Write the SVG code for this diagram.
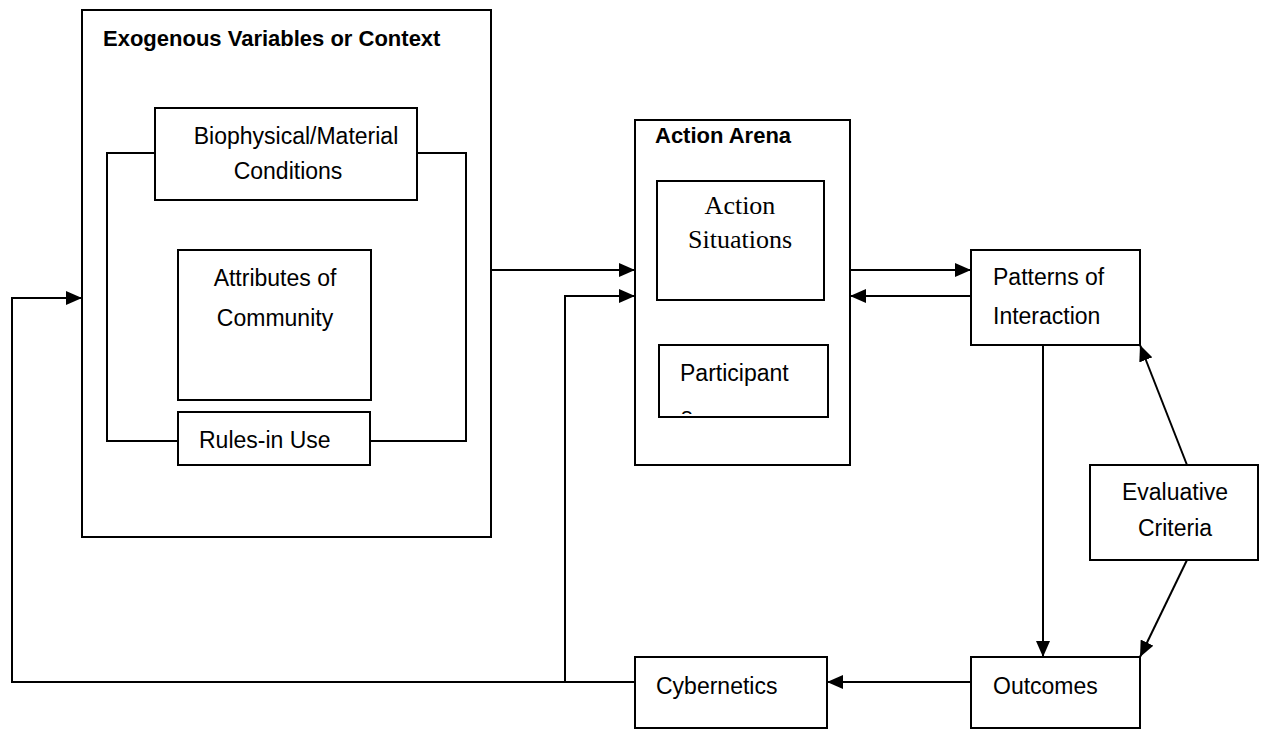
<svg xmlns="http://www.w3.org/2000/svg" width="1266" height="729" viewBox="0 0 1266 729">
<style>
.box{fill:#fff;stroke:#000;stroke-width:2}
.ln{fill:none;stroke:#000;stroke-width:2}
.t{font-family:"Liberation Sans",Arial,sans-serif;font-size:23px;fill:#000}
.b{font-family:"Liberation Sans",Arial,sans-serif;font-size:22px;font-weight:bold;fill:#000}
.s{font-family:"Liberation Serif","Times New Roman",serif;font-size:26px;fill:#000}
</style>
<defs>
<marker id="ah" viewBox="0 0 16 14" refX="16" refY="7" markerWidth="16" markerHeight="14" markerUnits="userSpaceOnUse" orient="auto">
<path d="M0,0 L16,7 L0,14 Z" fill="#000"/>
</marker>
<clipPath id="pc"><rect x="659" y="345" width="169" height="69"/></clipPath>
</defs>
<g id="exogenous">
<rect class="box" x="82" y="10" width="409" height="527"/>
<text class="b" x="103" y="46">Exogenous Variables or Context</text>
</g>
<g id="bracket">
<path class="ln" d="M155,153 H107 V441 H178 M417,153 H466 V441 H370"/>
</g>
<g id="biophysical">
<rect class="box" x="155" y="108" width="262" height="92"/>
<text class="t" x="296" y="144" text-anchor="middle">Biophysical/Material</text>
<text class="t" x="288" y="179" text-anchor="middle">Conditions</text>
</g>
<g id="attributes">
<rect class="box" x="178" y="250" width="193" height="150"/>
<text class="t" x="275" y="286" text-anchor="middle">Attributes of</text>
<text class="t" x="275" y="326" text-anchor="middle">Community</text>
</g>
<g id="rules">
<rect class="box" x="178" y="412" width="192" height="53"/>
<text class="t" x="199" y="448">Rules-in Use</text>
</g>
<g id="action-arena">
<rect class="box" x="635" y="120" width="215" height="345"/>
<text class="b" x="655" y="143">Action Arena</text>
</g>
<g id="action-situations">
<rect class="box" x="657" y="181" width="167" height="119"/>
<text class="s" x="740" y="214" text-anchor="middle">Action</text>
<text class="s" x="740" y="248" text-anchor="middle">Situations</text>
</g>
<g id="participants">
<rect class="box" x="659" y="345" width="169" height="72"/>
<text class="t" x="680" y="381">Participant</text>
<text class="t" x="681" y="424" clip-path="url(#pc)">s</text>
</g>
<g id="patterns">
<rect class="box" x="971" y="250" width="169" height="95"/>
<text class="t" x="993" y="285">Patterns of</text>
<text class="t" x="993" y="324">Interaction</text>
</g>
<g id="evaluative">
<rect class="box" x="1090" y="465" width="168" height="95"/>
<text class="t" x="1175" y="500" text-anchor="middle">Evaluative</text>
<text class="t" x="1175" y="536" text-anchor="middle">Criteria</text>
</g>
<g id="outcomes">
<rect class="box" x="971" y="657" width="169" height="71"/>
<text class="t" x="993" y="694">Outcomes</text>
</g>
<g id="cybernetics">
<rect class="box" x="635" y="657" width="192" height="71"/>
<text class="t" x="656" y="694">Cybernetics</text>
</g>
<g id="connectors">
<path class="ln" d="M491,270 H635" marker-end="url(#ah)"/>
<path class="ln" d="M635,682 H12 V298 H82" marker-end="url(#ah)"/>
<path class="ln" d="M565,682 V296 H635" marker-end="url(#ah)"/>
<path class="ln" d="M850,270 H971" marker-end="url(#ah)"/>
<path class="ln" d="M971,296 H850" marker-end="url(#ah)"/>
<path class="ln" d="M1043,345 V657" marker-end="url(#ah)"/>
<path class="ln" d="M1187,465 L1140,345" marker-end="url(#ah)"/>
<path class="ln" d="M1187,560 L1140,657" marker-end="url(#ah)"/>
<path class="ln" d="M971,682 H827" marker-end="url(#ah)"/>
</g>
</svg>
